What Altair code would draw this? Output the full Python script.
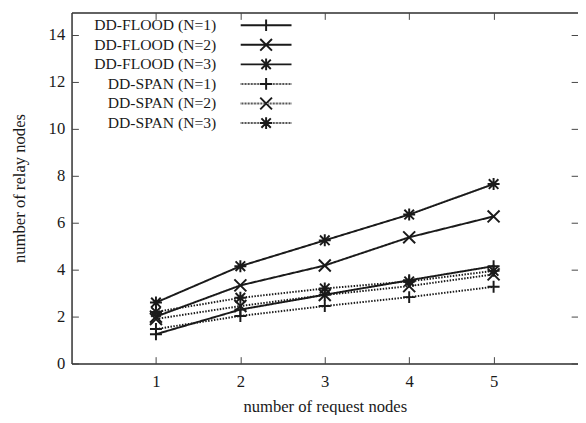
import altair as alt
import pandas as pd

# ---- data ----
request_nodes = [1, 2, 3, 4, 5]
series_names = ["DD-FLOOD (N=1)", "DD-FLOOD (N=2)", "DD-FLOOD (N=3)",
                "DD-SPAN (N=1)", "DD-SPAN (N=2)", "DD-SPAN (N=3)"]
flood_n1 = [1.25, 2.30, 2.93, 3.55, 4.15]
flood_n2 = [2.00, 3.33, 4.18, 5.38, 6.27]
flood_n3 = [2.60, 4.15, 5.25, 6.35, 7.65]
span_n1 = [1.47, 2.03, 2.45, 2.83, 3.27]
span_n2 = [1.90, 2.45, 2.92, 3.30, 3.80]
span_n3 = [2.20, 2.80, 3.20, 3.50, 3.95]
x_ticks = [1, 2, 3, 4, 5]
y_ticks = [0, 2, 4, 6, 8, 10, 12, 14]

all_series = [flood_n1, flood_n2, flood_n3, span_n1, span_n2, span_n3]
rows = []
for name, vals in zip(series_names, all_series):
    for xv, yv in zip(request_nodes, vals):
        rows.append({"series": name, "x": xv, "y": yv})
df = pd.DataFrame(rows)

# ---- styles ----
FONT = "Liberation Serif"
INK = "#1a1a1a"
PLUS = "M-1,0H1M0,-1V1"
CROSS = "M-1,-1L1,1M-1,1L1,-1"
STAR = "M-1,0H1M0,-1V1M-0.8,-0.8L0.8,0.8M-0.8,0.8L0.8,-0.8"
markers = [PLUS, CROSS, STAR, PLUS, CROSS, STAR]
dashes = [[1, 0], [1, 0], [1, 0], [1.5, 1.5], [1.5, 1.5], [1.5, 1.5]]

# legend symbols: marker plus a line sample (solid or dotted), in marker units
HALF = 4.33  # half length of line sample relative to marker radius
def solid_line():
    return f"M{-HALF},0H{HALF}"
def dotted_line():
    step = 0.125
    parts = []
    p = -HALF
    while p < HALF:
        parts.append(f"M{p:.3f},0H{min(p + step, HALF):.3f}")
        p += 2 * step
    return "".join(parts)
legend_paths = []
for i, m in enumerate(markers):
    line = solid_line() if i < 3 else dotted_line()
    legend_paths.append(line + m)

W, H = 518, 359
xscale = alt.Scale(domain=[0, 6], nice=False, zero=False)
yscale = alt.Scale(domain=[0, 14.96], nice=False)

def inward(orient, values):
    return alt.Axis(orient=orient, offset={"expr": "-7"}, tickSize=7, ticks=True,
                    domain=False, labels=False, title=None, values=values,
                    tickColor="#444", tickWidth=1, grid=False)

lines = alt.Chart(df).mark_line(strokeWidth=2, color=INK).encode(
    x=alt.X("x:Q", scale=xscale,
            axis=alt.Axis(orient="bottom", values=x_ticks, tickSize=0, ticks=False,
                          domain=True, domainColor="#333", domainWidth=1.5,
                          labelFont=FONT, labelFontSize=17, labelColor=INK,
                          labelPadding=11, title="number of request nodes",
                          titleFont=FONT, titleFontSize=17, titleFontWeight="normal",
                          titleColor=INK, titlePadding=9, grid=False)),
    y=alt.Y("y:Q", scale=yscale,
            axis=alt.Axis(orient="left", values=y_ticks, tickSize=0, ticks=False,
                          domain=True, domainColor="#333", domainWidth=1.5,
                          labelFont=FONT, labelFontSize=17, labelColor=INK,
                          labelPadding=7, title="number of relay nodes",
                          titleFont=FONT, titleFontSize=17, titleFontWeight="normal",
                          titleColor=INK, titlePadding=20, grid=False)),
    strokeDash=alt.StrokeDash("series:N", scale=alt.Scale(domain=series_names, range=dashes),
                              legend=None),
)

points = alt.Chart(df).mark_point(filled=False, size=150, strokeWidth=2, color=INK,
                                  opacity=1).encode(
    x=alt.X("x:Q", scale=xscale,
            axis=alt.Axis(orient="top", values=x_ticks, ticks=False, labels=False,
                          domain=True, domainColor="#333", domainWidth=1.5,
                          title=None, grid=False)),
    y=alt.Y("y:Q", scale=yscale, axis=inward("left", y_ticks)),
    shape=alt.Shape("series:N", scale=alt.Scale(domain=series_names, range=markers),
                    legend=None),
)

legend_layer = alt.Chart(df).mark_point(filled=False, size=144, strokeWidth=2,
                                        color=INK, opacity=0).encode(
    x=alt.X("x:Q", scale=xscale, axis=inward("bottom", x_ticks)),
    y=alt.Y("y:Q", scale=yscale, axis=inward("right", y_ticks)),
    shape=alt.Shape("series:N",
                    scale=alt.Scale(domain=series_names, range=legend_paths),
                    legend=alt.Legend(orient="none", legendX=191, legendY=5, title=None,
                                      labelFont=FONT, labelFontSize=16, labelColor=INK,
                                      labelAlign="right", labelOffset={"expr": "-59"},
                                      symbolSize=144, symbolStrokeWidth=2,
                                      symbolStrokeColor=INK, symbolOpacity=1,
                                      symbolFillColor="transparent",
                                      rowPadding=0, padding=0)),
)

top_ticks = alt.Chart(df).mark_point(opacity=0).encode(
    x=alt.X("x:Q", scale=xscale, axis=inward("top", x_ticks)),
    y=alt.Y("y:Q", scale=yscale, axis=None),
)

chart = alt.layer(lines, points, legend_layer, top_ticks).resolve_scale(
    shape="independent"
).resolve_axis(x="independent", y="independent").properties(
    width=W, height=H,
    autosize=alt.AutoSizeParams(type="none"),
    padding={"left": 65, "top": 0, "right": 0, "bottom": 48},
).configure_view(stroke=None).configure(background="white")

chart.save("out.html", embed_options={"renderer": "svg", "actions": False})
